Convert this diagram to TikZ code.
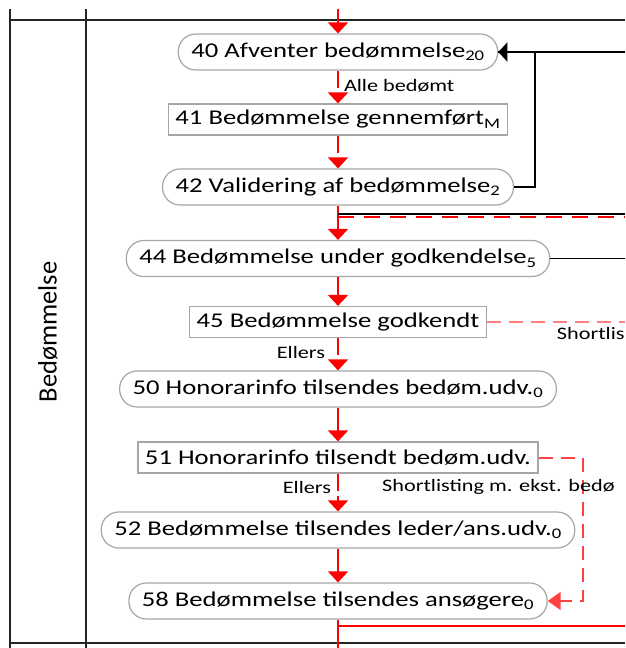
\documentclass[tikz,border=0pt]{standalone}
\usepackage{fontspec}
\setmainfont{Carlito}[FakeStretch=1.27]
\newfontfamily\lanefont{Carlito}
\usetikzlibrary{arrows.meta}
\begin{document}
\begin{tikzpicture}[x=1pt, y=-1pt,
				font=\fontsize{21}{24}\selectfont,
				every node/.style={
						font=\fontsize{21}{24}\selectfont,
					},
				state/.style={draw=gray!70, line width=1.2pt, rounded corners=17.5pt,
						minimum height=36pt, inner xsep=13pt, inner ysep=0pt, fill=white},
				event/.style={draw=gray!70, line width=1.2pt,
						minimum height=31pt, inner xsep=7pt, inner ysep=0pt, fill=white},
				lbl/.style={font=\fontsize{17.5}{20}\selectfont, inner sep=0pt, text=black},
				lane/.style={black!85, line width=1.8pt},
				flow/.style={red, line width=2pt, -{Triangle[width=20pt,length=11pt]}},
				ellers/.style={flow, dash pattern=on 17pt off 5pt},
				shortlist/.style={red!75, line width=2pt, dash pattern=on 14pt off 8pt},
				back/.style={black, line width=1.6pt},
			]
			\clip (0,0) rectangle (625,648);
			% swimlane
			\draw [lane] (10,9) -- (10,648);
			\draw [lane] (86,9) -- (86,648);
			\draw [lane] (10,20) -- (625,20);
			\draw [lane] (10,643) -- (625,643);
			\node[rotate=90, font=\lanefont\fontsize{26.5}{30}\selectfont] (lanename) at (48,332) {Bedømmelse};

			% states and events
			\node[state] (s40) at (338,52) {40 Afventer bedømmelse\textsubscript{20}};
			\node[event] (e41) at (338,119.5) {41 Bedømmelse gennemført\textsubscript{M}};
			\node[state] (s42) at (338,187) {42 Validering af bedømmelse\textsubscript{2}};
			\node[state] (s44) at (338,258.5) {44 Bedømmelse under godkendelse\textsubscript{5}};
			\node[event] (e45) at (338,322) {45 Bedømmelse godkendt};
			\node[state] (s50) at (338,389) {50 Honorarinfo tilsendes bedøm.udv.\textsubscript{0}};
			\node[event] (e51) at (338,457.5) {51 Honorarinfo tilsendt bedøm.udv.};
			\node[state] (s52) at (338,530) {52 Bedømmelse tilsendes leder/ans.udv.\textsubscript{0}};
			\node[state] (s58) at (338,601) {58 Bedømmelse tilsendes ansøgere\textsubscript{0}};

			% free ends
			\coordinate (top) at (338,9);
			\coordinate (bottom) at (338,648);
			\coordinate (r40) at (625,52);
			\coordinate (j42) at (338,214);
			\coordinate (r42) at (625,214);
			\coordinate (r44) at (625,258.5);
			\coordinate (r45) at (625,322);
			\coordinate (j58) at (338,626);
			\coordinate (r58) at (625,626);

			% main flow
			\draw [flow] (top) -- (s40);
			\draw [ellers] (s40) -- (e41) node[lbl, midway, right=5pt, yshift=1pt] {Alle bedømt};
			\draw [ellers] (e41) -- (s42);
			\draw [flow] (s42) -- (s44);
			\draw [flow] (s44) -- (e45);
			\draw [ellers] (e45) -- (s50) node[lbl, pos=0.45, left=12pt] {Ellers};
			\draw [flow] (s50) -- (e51);
			\draw [ellers] (e51) -- (s52) node[lbl, pos=0.38, left=6pt] {Ellers};
			\draw [flow] (s52) -- (s58);
			\draw [red, line width=2pt] (s58) -- (bottom);
			\draw [red, line width=2pt] (j58) -- (r58);

			% other lanes
			\draw [back, -{Triangle[width=19pt,length=9pt]}] (r40) -- (s40);
			\draw [back] (s42.east) -- ++(21,0) |- (s40.east);
			\draw [back] (j42) -- (r42);
			\draw [red, line width=2.2pt, dash pattern=on 16pt off 10pt] ([yshift=-3pt]j42) -- ([yshift=-3pt]r42);
			\draw [back] (s44) -- (r44);
			\draw [shortlist, red!50] (e45) -- (r45)
				node[lbl, pos=0.5, anchor=north west, yshift=-4pt] {Shortlis};
			\draw [shortlist, -{Triangle[width=18pt,length=13pt]}] (e51.east) -- ++(44,0) |- (s58.east);
			\node[lbl, anchor=west] (sl51) at (382,487) {Shortlisting m. ekst. bedø};
		\end{tikzpicture}
\end{document}
